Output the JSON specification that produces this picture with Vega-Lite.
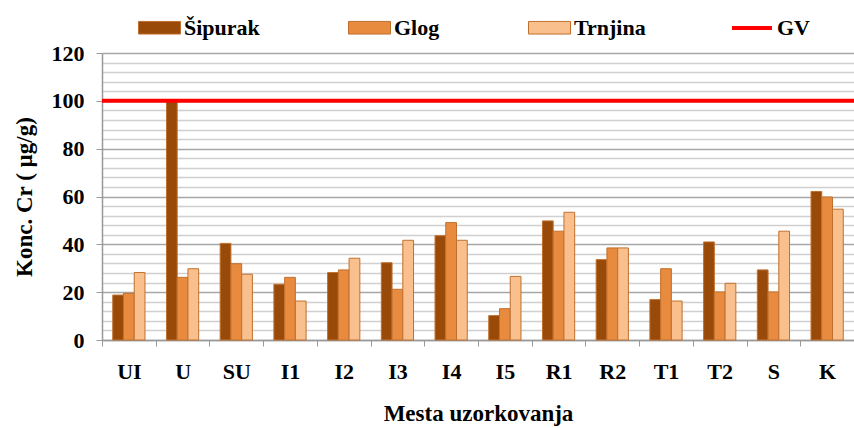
{
  "$schema": "https://vega.github.io/schema/vega-lite/v6.json",
  "width": 752,
  "height": 287,
  "autosize": {"type": "none"},
  "padding": {"left": 102, "top": 53, "right": 0, "bottom": 88},
  "background": "white",
  "config": {
    "view": {"stroke": null},
    "font": "Liberation Serif",
    "axis": {
      "labelFont": "Liberation Serif", "labelFontWeight": "bold", "labelColor": "#000",
      "titleFont": "Liberation Serif", "titleFontWeight": "bold", "titleColor": "#000"
    },
    "legend": {
      "labelFont": "Liberation Serif", "labelFontWeight": "bold", "labelFontSize": 22,
      "labelColor": "#000", "padding": 0, "orient": "none", "direction": "horizontal"
    }
  },
  "layer": [
    {
      "data": {"values": [
        {"mesto": "UI", "vrsta": "Šipurak", "vrednost": 18.8},
        {"mesto": "UI", "vrsta": "Glog", "vrednost": 19.5},
        {"mesto": "UI", "vrsta": "Trnjina", "vrednost": 28.2},
        {"mesto": "U", "vrsta": "Šipurak", "vrednost": 100},
        {"mesto": "U", "vrsta": "Glog", "vrednost": 26.2},
        {"mesto": "U", "vrsta": "Trnjina", "vrednost": 29.8},
        {"mesto": "SU", "vrsta": "Šipurak", "vrednost": 40.4},
        {"mesto": "SU", "vrsta": "Glog", "vrednost": 31.9},
        {"mesto": "SU", "vrsta": "Trnjina", "vrednost": 27.5},
        {"mesto": "I1", "vrsta": "Šipurak", "vrednost": 23.3},
        {"mesto": "I1", "vrsta": "Glog", "vrednost": 26.2},
        {"mesto": "I1", "vrsta": "Trnjina", "vrednost": 16.3},
        {"mesto": "I2", "vrsta": "Šipurak", "vrednost": 28.2},
        {"mesto": "I2", "vrsta": "Glog", "vrednost": 29.3},
        {"mesto": "I2", "vrsta": "Trnjina", "vrednost": 34.2},
        {"mesto": "I3", "vrsta": "Šipurak", "vrednost": 32.3},
        {"mesto": "I3", "vrsta": "Glog", "vrednost": 21.2},
        {"mesto": "I3", "vrsta": "Trnjina", "vrednost": 41.7},
        {"mesto": "I4", "vrsta": "Šipurak", "vrednost": 43.6},
        {"mesto": "I4", "vrsta": "Glog", "vrednost": 49.1},
        {"mesto": "I4", "vrsta": "Trnjina", "vrednost": 41.7},
        {"mesto": "I5", "vrsta": "Šipurak", "vrednost": 10.2},
        {"mesto": "I5", "vrsta": "Glog", "vrednost": 13.1},
        {"mesto": "I5", "vrsta": "Trnjina", "vrednost": 26.6},
        {"mesto": "R1", "vrsta": "Šipurak", "vrednost": 49.8},
        {"mesto": "R1", "vrsta": "Glog", "vrednost": 45.5},
        {"mesto": "R1", "vrsta": "Trnjina", "vrednost": 53.4},
        {"mesto": "R2", "vrsta": "Šipurak", "vrednost": 33.6},
        {"mesto": "R2", "vrsta": "Glog", "vrednost": 38.5},
        {"mesto": "R2", "vrsta": "Trnjina", "vrednost": 38.5},
        {"mesto": "T1", "vrsta": "Šipurak", "vrednost": 16.9},
        {"mesto": "T1", "vrsta": "Glog", "vrednost": 29.8},
        {"mesto": "T1", "vrsta": "Trnjina", "vrednost": 16.3},
        {"mesto": "T2", "vrsta": "Šipurak", "vrednost": 41.0},
        {"mesto": "T2", "vrsta": "Glog", "vrednost": 20.1},
        {"mesto": "T2", "vrsta": "Trnjina", "vrednost": 23.7},
        {"mesto": "S", "vrsta": "Šipurak", "vrednost": 29.3},
        {"mesto": "S", "vrsta": "Glog", "vrednost": 20.1},
        {"mesto": "S", "vrsta": "Trnjina", "vrednost": 45.5},
        {"mesto": "K", "vrsta": "Šipurak", "vrednost": 62.1},
        {"mesto": "K", "vrsta": "Glog", "vrednost": 59.8},
        {"mesto": "K", "vrsta": "Trnjina", "vrednost": 54.7}
      ]},
      "mark": {"type": "bar", "stroke": "#c0702e", "strokeWidth": 1},
      "encoding": {
        "x": {
          "field": "mesto", "type": "nominal", "sort": null,
          "scale": {"paddingInner": 0, "paddingOuter": 0},
          "axis": {
            "title": "Mesta uzorkovanja", "titleFontSize": 23, "titlePadding": 20,
            "labelAngle": 0, "labelFontSize": 22, "labelPadding": 15,
            "tickBand": "extent", "tickSize": 6, "tickColor": "#999", "domainColor": "#999",
            "domainWidth": 1.5, "grid": false
          }
        },
        "xOffset": {
          "field": "vrsta", "type": "nominal", "sort": ["Šipurak", "Glog", "Trnjina"],
          "scale": {"paddingInner": 0, "paddingOuter": 1.32}
        },
        "y": {
          "field": "vrednost", "type": "quantitative",
          "scale": {"domain": [0, 120], "nice": false},
          "axis": {
            "title": "Konc. Cr ( µg/g)", "titleFontSize": 23, "titlePadding": 15,
            "values": [0,4,8,12,16,20,24,28,32,36,40,44,48,52,56,60,64,68,72,76,80,84,88,92,96,100,104,108,112,116,120],
            "tickCount": 100,
            "labelExpr": "datum.value % 20 === 0 ? datum.label : ''",
            "labelOverlap": false, "labelFlush": false,
            "labelFontSize": 22, "labelPadding": 12,
            "tickSize": 6, "tickColor": "#999",
            "tickOpacity": {"condition": {"test": "datum.value % 20 === 0", "value": 1}, "value": 0},
            "domainColor": "#999", "domainWidth": 1.5,
            "grid": true, "gridWidth": 1.5,
            "gridColor": {"condition": {"test": "datum.value % 20 === 0", "value": "#a6a6a6"}, "value": "#d0d0d0"}
          }
        },
        "fill": {
          "field": "vrsta", "type": "nominal", "sort": ["Šipurak", "Glog", "Trnjina"],
          "scale": {"domain": ["Šipurak", "Glog", "Trnjina"], "range": ["#9a4a08", "#e88b3e", "#f9bf8c"]},
          "legend": {
            "title": null, "legendX": 36, "legendY": -47,
            "symbolType": "M-1,-0.3H1V0.3H-1Z", "symbolSize": 1764,
            "symbolStrokeColor": "#c0702e", "symbolStrokeWidth": 1,
            "labelOffset": 3, "columnPadding": 86
          }
        }
      }
    },
    {
      "data": {"values": [{"naziv": "GV", "vrednost": 100}]},
      "mark": {"type": "rule", "strokeWidth": 4},
      "encoding": {
        "y": {"field": "vrednost", "type": "quantitative"},
        "stroke": {
          "field": "naziv", "type": "nominal",
          "scale": {"domain": ["GV"], "range": ["#ff0000"]},
          "legend": {
            "title": null, "legendX": 628, "legendY": -47,
            "symbolType": "stroke", "symbolSize": 1600, "symbolStrokeWidth": 4,
            "labelOffset": 3
          }
        }
      }
    }
  ],
  "resolve": {"scale": {"fill": "independent", "stroke": "independent"}}
}
